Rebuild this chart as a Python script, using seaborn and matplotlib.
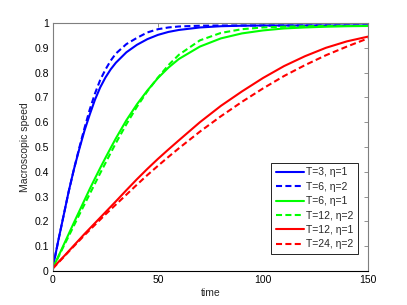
import matplotlib
matplotlib.use("Agg")
import matplotlib.pyplot as plt
import seaborn as sns
import pandas as pd
import numpy as np

# time grid
time = [0, 2.5, 5, 7.5, 10, 12.5, 15, 17.5, 20, 22.5, 25, 27.5, 30, 35, 40, 45, 50,
        55, 60, 70, 80, 90, 100, 110, 120, 130, 140, 150]

blue_solid = [0.015, 0.12, 0.22, 0.32, 0.41, 0.49, 0.565, 0.63, 0.69, 0.74, 0.78, 0.813,
              0.84, 0.882, 0.912, 0.935, 0.952, 0.964, 0.972, 0.982, 0.987, 0.989, 0.99,
              0.99, 0.99, 0.99, 0.99, 0.99]
blue_dash = [0.015, 0.12, 0.22, 0.32, 0.41, 0.495, 0.575, 0.65, 0.715, 0.77, 0.812, 0.848,
             0.877, 0.915, 0.94, 0.962, 0.975, 0.982, 0.986, 0.989, 0.99, 0.99, 0.99,
             0.99, 0.99, 0.99, 0.99, 0.99]
green_solid = [0.012, 0.057, 0.103, 0.149, 0.195, 0.24, 0.285, 0.33, 0.373, 0.415, 0.456,
               0.496, 0.535, 0.608, 0.672, 0.728, 0.778, 0.82, 0.855, 0.905, 0.938, 0.958,
               0.97, 0.978, 0.982, 0.985, 0.987, 0.988]
green_dash = [0.012, 0.055, 0.098, 0.14, 0.183, 0.226, 0.268, 0.31, 0.352, 0.394, 0.435,
              0.476, 0.516, 0.592, 0.662, 0.725, 0.78, 0.83, 0.872, 0.93, 0.96, 0.975,
              0.982, 0.985, 0.987, 0.988, 0.988, 0.988]
red_solid = [0.012, 0.035, 0.057, 0.08, 0.103, 0.126, 0.149, 0.171, 0.193, 0.215, 0.237,
             0.259, 0.281, 0.326, 0.37, 0.412, 0.452, 0.49, 0.527, 0.6, 0.666, 0.724,
             0.778, 0.826, 0.866, 0.9, 0.926, 0.945]
red_dash = [0.01, 0.033, 0.055, 0.078, 0.1, 0.122, 0.144, 0.165, 0.186, 0.207, 0.228,
            0.248, 0.268, 0.308, 0.348, 0.387, 0.424, 0.46, 0.495, 0.562, 0.624, 0.682,
            0.736, 0.786, 0.83, 0.87, 0.905, 0.938]

labels = ["T=3, η=1", "T=6, η=2", "T=6, η=1", "T=12, η=2", "T=12, η=1", "T=24, η=2"]
series = [blue_solid, blue_dash, green_solid, green_dash, red_solid, red_dash]
colors = ["#0000ff", "#0000ff", "#00ff00", "#00ff00", "#ff0000", "#ff0000"]
solid = [True, False, True, False, True, False]

rows = []
for lab, vals in zip(labels, series):
    for t, v in zip(time, vals):
        rows.append({"time": t, "speed": v, "series": lab})
df = pd.DataFrame(rows)

sns.set_style("white")
plt.rcParams["font.family"] = ["Liberation Sans", "DejaVu Sans"]

fig = plt.figure(figsize=(4.07, 3.05), dpi=100)
ax = fig.add_axes([0.13, 0.1115, 0.774, 0.8131])

LW = 1.5
palette = dict(zip(labels, colors))
dashes = {lab: ("" if s else (2.9, 1.6)) for lab, s in zip(labels, solid)}
sns.lineplot(data=df, x="time", y="speed", hue="series", style="series",
             hue_order=labels, style_order=labels, palette=palette, dashes=dashes,
             linewidth=LW, ax=ax, legend="full")

ax.set_xlim(0, 150)
ax.set_ylim(0, 1)
ax.set_xticks([0, 50, 100, 150])
ax.set_yticks([i / 10 for i in range(11)])
ax.set_yticklabels(["0"] + [f"{i/10:.1f}" for i in range(1, 10)] + ["1"])
ax.tick_params(direction="in", length=3, width=0.6, labelsize=7.5, colors="#7f7f7f",
               labelcolor="black", top=True, right=True, pad=3)
for side in ["top", "left", "right"]:
    ax.spines[side].set_color("#7f7f7f")
    ax.spines[side].set_linewidth(0.8)
ax.spines["bottom"].set_color("black")
ax.spines["bottom"].set_linewidth(0.8)
ax.set_xlabel("time", fontsize=7.5, labelpad=2)
ax.set_ylabel("Macroscopic speed", fontsize=7.5, labelpad=3)

h, l = ax.get_legend_handles_labels()
leg = ax.legend(h, l, loc="lower right", bbox_to_anchor=(0.968, 0.0685),
                borderaxespad=0, fontsize=7.5, handlelength=2.7, labelspacing=0.42,
                frameon=True, fancybox=False, edgecolor="black", framealpha=1,
                borderpad=0.45, handletextpad=0.2)
leg.get_frame().set_linewidth(0.6)
for lh in leg.get_lines():
    lh.set_linewidth(LW)

fig.savefig("out.png", dpi=100)
